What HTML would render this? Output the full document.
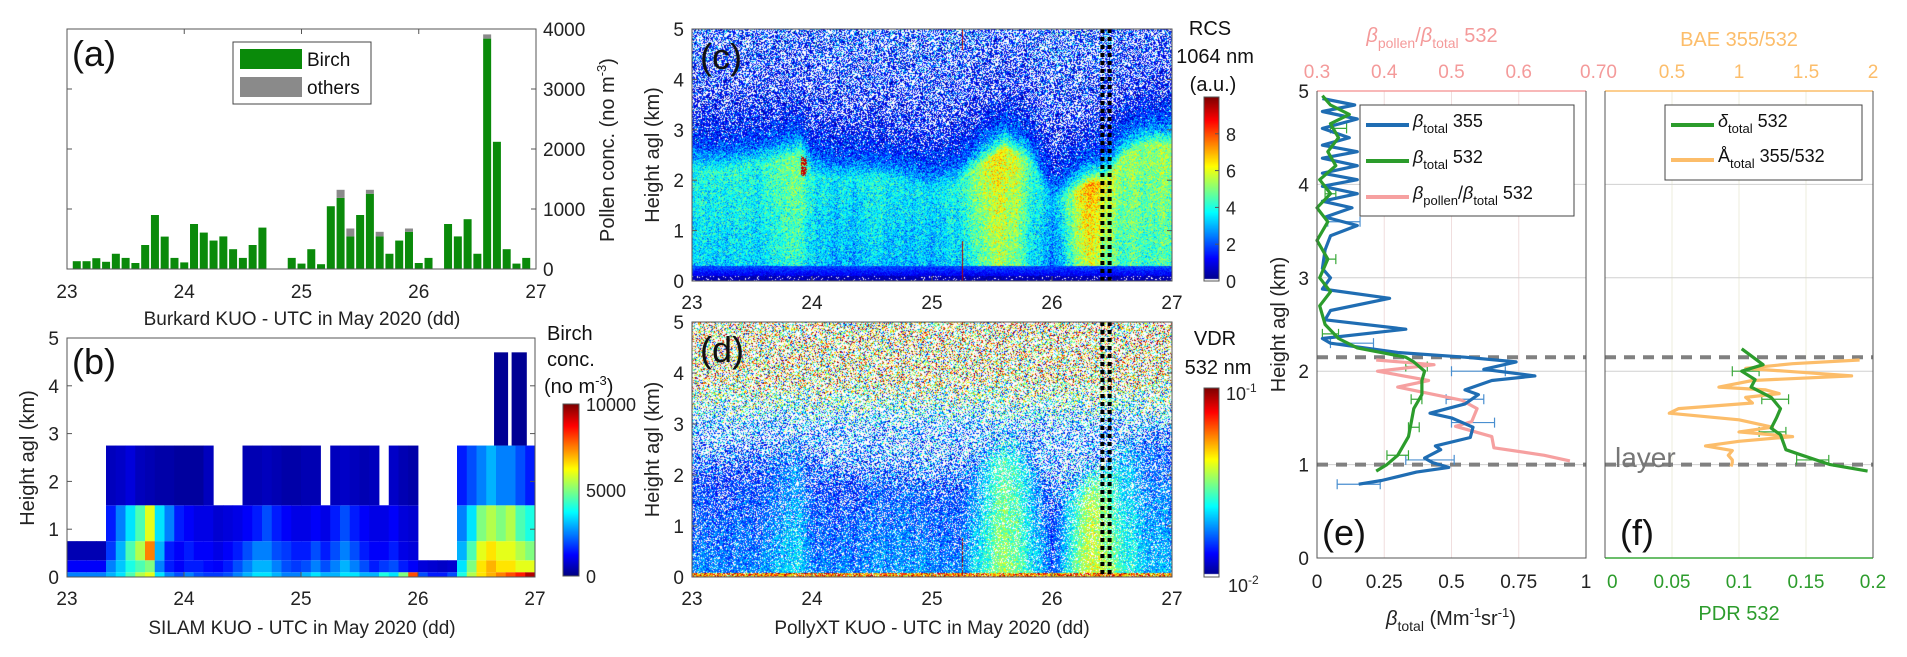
<!DOCTYPE html>
<html><head><meta charset="utf-8">
<style>
html,body{margin:0;padding:0;background:#fff;}
#root{position:relative;width:1907px;height:657px;overflow:hidden;font-family:"Liberation Sans",sans-serif;}
canvas{position:absolute;}
svg{position:absolute;left:0;top:0;}
text{font-family:"Liberation Sans",sans-serif;}
</style></head>
<body>
<div id="root">
<canvas id="cvC" width="480" height="252" style="left:692px;top:29px"></canvas>
<canvas id="cvD" width="480" height="255" style="left:692px;top:322px"></canvas>
<canvas id="cbC" width="15" height="184" style="left:1204px;top:97px"></canvas>
<canvas id="cbD" width="15" height="189" style="left:1204px;top:388px"></canvas>
<canvas id="cbB" width="16" height="172" style="left:563px;top:404px"></canvas>
<svg id="svg" width="1907" height="657" xmlns="http://www.w3.org/2000/svg"></svg>
</div>
<script>
// ---------- Panel (a) data ----------
const aHours = [];
for (let k = 0; k < 48; k++) aHours.push(k);
const birchCounts = [0,130,130,180,120,254,185,100,400,900,540,185,110,750,607,474,543,330,185,400,690,0,0,185,90,330,80,1046,1185,543,900,1254,543,254,474,620,100,185,0,750,543,830,254,3840,2120,330,90,185];
const otherCounts = [0,0,0,0,0,0,0,0,0,0,0,0,0,0,0,0,0,0,0,0,0,0,0,0,0,0,0,0,135,132,0,66,77,0,0,55,0,0,0,0,0,0,0,70,0,0,0,0];
const aTicksY = [0,1000,2000,3000,4000];
const dayTicks = [23,24,25,26,27];
// ---------- Panel (b) data (2-hour columns, levels bottom->top) ----------
const bLevels = [0,0.1,0.35,0.75,1.5,2.75];
const lev0 = [2500,2500,2500,2500,3000,3500,4500,5500,6000,3500,2500,2000,2500,2000,1800,1800,2000,2500,3000,3500,3500,3000,2500,2500,3000,3500,3000,3000,3500,3500,3000,3000,4000,3500,5000,8000,2000,1500,1500,2000,4000,5500,6500,7000,7500,8000,8500,9500];
const lev1 = [1200,1200,1200,1200,2500,3200,4000,4500,5000,2500,1500,1200,1500,1500,1300,1200,1500,2000,2500,3000,3000,2500,2000,1800,2000,2500,2000,2500,3000,2500,2000,1500,1800,2000,1500,1200,900,800,700,800,3500,5000,6500,7000,6500,6500,6000,6000];
const lev2 = [500,500,500,500,1800,3000,4500,5500,7500,3000,1500,1200,1500,1200,1200,1000,1200,1500,2000,2500,2500,2000,1800,1500,1500,2000,1500,2000,2500,2000,1500,1200,1200,1500,1000,900,0,0,0,0,3000,4500,6000,6500,6000,6000,5500,5000];
const lev3 = [0,0,0,0,1500,2500,3500,4500,6000,3500,2500,1500,1200,1000,1000,800,900,1000,1200,1500,2000,1500,1200,1000,1000,1200,1000,1500,2000,1500,1200,1000,1000,1200,900,800,0,0,0,0,2500,3500,5000,5500,5000,5500,4500,4000];
const lev4 = [0,0,0,0,600,700,900,600,500,400,400,300,300,300,600,0,0,0,500,500,600,500,400,400,500,500,0,600,700,600,500,600,0,700,500,400,0,0,0,0,1500,2000,2500,3000,2500,2500,2000,1500];
const tallStart = [26.65,26.8];
const tallEnd = [26.77,26.93];
const tallTop = [4.7,4.7];
const tallVal = [200,200];
const heightTicks = [0,1,2,3,4,5];
// ---------- Panel (c)/(d) field data ----------
const fieldDays = [23.0,23.3,23.6,23.9,24.0,24.2,24.5,24.8,25.0,25.2,25.4,25.6,25.8,26.0,26.3,26.45,26.6,26.8,27.0];
const rcsTop = [2.2,2.2,2.3,2.5,2.1,2.0,2.0,1.9,1.8,1.9,2.3,2.6,2.4,1.5,1.9,2.0,2.5,2.7,2.7];
const rcsPeak = [3.8,4,4.3,5,3.8,3.6,4,3.6,3.3,4,5.5,6.5,4.5,3,7.5,6,5,5.3,5.3];
const vdrLayer = [0.25,0.25,0.28,0.35,0.25,0.25,0.28,0.28,0.25,0.25,0.38,0.55,0.4,0.22,0.62,0.55,0.4,0.33,0.3];
const dottedDays = [26.42,26.48];
const rcsCbTicks = [0,2,4,6,8];
// ---------- Panel (e) data ----------
const b355H = [0.79,0.83,0.92,0.97,1.02,1.07,1.16,1.2,1.29,1.4,1.5,1.55,1.65,1.75,1.8,1.9,1.95,2.02,2.1,2.15,2.2,2.3,2.35,2.45,2.55,2.65,2.78,2.88,3.0,3.1,3.3,3.45,3.56,3.65,3.75,3.82,3.9,3.98,4.05,4.12,4.2,4.28,4.35,4.42,4.5,4.6,4.7,4.78,4.85,4.92];
const b355V = [0.155,0.24,0.37,0.49,0.43,0.4,0.46,0.44,0.57,0.58,0.5,0.42,0.55,0.6,0.55,0.65,0.81,0.62,0.74,0.55,0.3,0.05,0.02,0.33,0.03,0.05,0.27,0.02,0.05,0.02,0.03,0.05,0.15,0.03,0.13,0.02,0.15,0.02,0.15,0.02,0.15,0.02,0.15,0.02,0.12,0.02,0.15,0.02,0.14,0.02];
const b532H = [0.93,1.0,1.1,1.2,1.3,1.45,1.6,1.75,1.9,2.0,2.1,2.15,2.25,2.35,2.5,2.7,2.85,3.0,3.2,3.4,3.6,3.75,3.9,4.05,4.2,4.35,4.5,4.65,4.75,4.85,4.95];
const b532V = [0.22,0.26,0.3,0.32,0.34,0.35,0.36,0.39,0.39,0.4,0.36,0.33,0.15,0.08,0.03,0.01,0.05,0.01,0.04,0.0,0.04,0.0,0.05,0.01,0.07,0.04,0.08,0.05,0.12,0.05,0.02];
const ratioH = [1.04,1.1,1.18,1.3,1.41,1.46,1.6,1.69,1.83,1.9,2.0,2.07,2.12];
const ratioV = [0.676,0.638,0.563,0.56,0.506,0.53,0.538,0.515,0.42,0.466,0.39,0.474,0.388];
const errH355 = [0.79,1.05,1.45,1.7,2.0,2.3,3.6];
const errC355 = [0.155,0.42,0.58,0.55,0.6,0.13,0.1];
const errW355 = [0.08,0.09,0.08,0.07,0.1,0.08,0.06];
const errH532 = [1.1,1.4,1.7,2.05,2.4,3.2,3.9,4.6];
const errC532 = [0.3,0.36,0.37,0.37,0.05,0.05,0.05,0.08];
const errW532 = [0.04,0.02,0.02,0.04,0.03,0.02,0.02,0.03];
// ---------- Panel (f) data ----------
const pdrH = [0.93,1.0,1.11,1.16,1.32,1.39,1.5,1.6,1.72,1.83,1.91,2.0,2.07,2.24];
const pdrV = [0.196,0.168,0.145,0.135,0.131,0.124,0.128,0.131,0.124,0.109,0.112,0.102,0.118,0.102];
const baeH = [0.98,1.02,1.05,1.1,1.15,1.2,1.25,1.3,1.35,1.4,1.48,1.55,1.6,1.66,1.72,1.76,1.8,1.83,1.9,1.95,2.0,2.03,2.08,2.12];
const baeV = [0.94,0.95,0.95,0.92,0.95,0.75,1.0,1.4,1.0,1.25,1.0,0.48,0.55,1.1,1.05,1.3,1.2,0.85,1.1,1.84,1.35,1.05,1.4,1.9];
const errHpdr = [1.05,1.35,1.7,2.0];
const errCpdr = [0.155,0.125,0.127,0.105];
const errWpdr = [0.012,0.01,0.01,0.01];
const layerBounds = [1.0,2.15];

// ---------- helpers ----------
const NS = "http://www.w3.org/2000/svg";
const svg = document.getElementById('svg');
function mk(tag, attrs, parent) {
  const e = document.createElementNS(NS, tag);
  for (const k in attrs) e.setAttribute(k, attrs[k]);
  (parent || svg).appendChild(e);
  return e;
}
function txt(x, y, s, size, anchor, fill, name, extra) {
  const t = mk('text', {x: x, y: y, 'font-size': size, 'text-anchor': anchor || 'start', fill: fill || '#222'});
  t.textContent = s;
  
  
  if (extra) for (const k in extra) t.setAttribute(k, extra[k]);
  return t;
}
function jet(t) {
  t = Math.max(0, Math.min(1, t));
  const r = Math.max(0, Math.min(1, 1.5 - Math.abs(4 * t - 3)));
  const g = Math.max(0, Math.min(1, 1.5 - Math.abs(4 * t - 2)));
  const b = Math.max(0, Math.min(1, 1.5 - Math.abs(4 * t - 1)));
  return [Math.round(r * 255), Math.round(g * 255), Math.round(b * 255)];
}
function rgb(c) { return 'rgb(' + c[0] + ',' + c[1] + ',' + c[2] + ')'; }
let seed = 12345;
function rnd() { seed = (seed * 1103515245 + 12345) & 0x7fffffff; return seed / 0x7fffffff; }
function gauss() { return (rnd() + rnd() + rnd() + rnd() - 2) * 1.22; }
function interp(xs, ys, x) {
  if (x <= xs[0]) return ys[0];
  for (let i = 1; i < xs.length; i++) if (x <= xs[i]) { const f = (x - xs[i-1]) / (xs[i] - xs[i-1]); return ys[i-1] + f * (ys[i] - ys[i-1]); }
  return ys[ys.length - 1];
}
function clamp01(v) { return Math.max(0, Math.min(1, v)); }

// ---------- Panel (a) ----------
const A = {l: 67, r: 536, t: 29, b: 269};
const ax = d => A.l + (d - 23) / 4 * (A.r - A.l);
const ay = v => A.b - v / 4000 * (A.b - A.t);
const gA = mk('g', {});


for (let i = 0; i < aHours.length; i++) {
  const dc = 23 + aHours[i] / 12;
  const w = 8;
  if (birchCounts[i] > 0) {
    const r = mk('rect', {x: ax(dc) - w / 2, y: ay(birchCounts[i]), width: w, height: ay(0) - ay(birchCounts[i]), fill: '#0a8a0a'}, gA);
    
    
  }
  if (otherCounts[i] > 0) {
    const r2 = mk('rect', {x: ax(dc) - w / 2, y: ay(birchCounts[i] + otherCounts[i]), width: w, height: ay(0) - ay(otherCounts[i]), fill: '#8a8a8a'}, gA);
    
    
  }
}
mk('rect', {x: A.l, y: A.t, width: A.r - A.l, height: A.b - A.t, fill: 'none', stroke: '#555', 'stroke-width': 1}, gA);
aTicksY.forEach(v => {
  mk('line', {x1: A.r, x2: A.r - 5, y1: ay(v), y2: ay(v), stroke: '#555'}, gA);
  mk('line', {x1: A.l, x2: A.l + 5, y1: ay(v), y2: ay(v), stroke: '#555'}, gA);
  txt(A.r + 7, ay(v) + 7, String(v), 19, 'start', '#222', 'a-y-tick-label');
});
dayTicks.forEach(d => {
  mk('line', {x1: ax(d), x2: ax(d), y1: A.t, y2: A.t + 5, stroke: '#555'}, gA);
  txt(ax(d), 298, String(d), 19, 'middle', '#222', 'a-x-tick-label');
});
txt(302, 325, 'Burkard KUO - UTC in May 2020 (dd)', 19, 'middle', '#222', 'a-x-axis-title');
const ayt = txt(0, 0, '', 20, 'middle', '#222', 'a-y-axis-title', {transform: 'translate(614,150) rotate(-90)'});
ayt.innerHTML = 'Pollen conc. (no m<tspan font-size="13" dy="-8">-3</tspan><tspan dy="8">)</tspan>';
txt(72, 66, '(a)', 36, 'start', '#111', 'panel-label-a');
const legA = mk('g', {});


mk('rect', {x: 233, y: 42, width: 138, height: 62, fill: '#fff', stroke: '#444'}, legA);
mk('rect', {x: 240, y: 49, width: 62, height: 20, fill: '#0a8a0a'}, legA);
mk('rect', {x: 240, y: 77, width: 62, height: 20, fill: '#8a8a8a'}, legA);
txt(307, 66, 'Birch', 19, 'start', '#111', 'legend-birch');
txt(307, 94, 'others', 19, 'start', '#111', 'legend-others');

// ---------- Panel (b) ----------
const B = {l: 67, r: 535, t: 338, b: 577};
const bx = d => B.l + (d - 23) / 4 * (B.r - B.l);
const by = h => B.b - h / 5 * (B.b - B.t);
const bColor = v => rgb(jet(v / 10000));
const gB = mk('g', {});


const bLevArrs = [lev0, lev1, lev2, lev3, lev4];
for (let k = 0; k < 48; k++) {
  for (let L = 0; L < 5; L++) {
    const v = bLevArrs[L][k];
    if (v <= 0) continue;
    const x0 = bx(23 + k / 12), x1 = bx(23 + (k + 1) / 12);
    const c = mk('rect', {x: x0, y: by(bLevels[L + 1]), width: x1 - x0 + 0.4, height: by(bLevels[L]) - by(bLevels[L + 1]), fill: bColor(v)}, gB);
    
    
  }
}
for (let i = 0; i < tallStart.length; i++) {
  const c = mk('rect', {x: bx(tallStart[i]), y: by(tallTop[i]), width: bx(tallEnd[i]) - bx(tallStart[i]), height: by(bLevels[5]) - by(tallTop[i]), fill: bColor(tallVal[i])}, gB);
  
  
}
mk('rect', {x: B.l, y: B.t, width: B.r - B.l, height: B.b - B.t, fill: 'none', stroke: '#555'}, gB);
heightTicks.forEach(h => {
  mk('line', {x1: B.l, x2: B.l + 5, y1: by(h), y2: by(h), stroke: '#555'}, gB);
  mk('line', {x1: B.r, x2: B.r - 5, y1: by(h), y2: by(h), stroke: '#555'}, gB);
  txt(B.l - 8, by(h) + 7, String(h), 19, 'end', '#222', 'b-y-tick-label');
});
dayTicks.forEach(d => {
  mk('line', {x1: bx(d), x2: bx(d), y1: B.b, y2: B.b - 5, stroke: '#555'}, gB);
  txt(bx(d), 605, String(d), 19, 'middle', '#222', 'b-x-tick-label');
});
txt(302, 634, 'SILAM KUO - UTC in May 2020 (dd)', 19, 'middle', '#222', 'b-x-axis-title');
txt(0, 0, 'Height agl (km)', 20, 'middle', '#222', 'b-y-axis-title', {transform: 'translate(34,458) rotate(-90)'});
txt(72, 374, '(b)', 36, 'start', '#111', 'panel-label-b');
txt(547, 340, 'Birch', 20, 'start', '#111', 'b-cbar-title-1');
txt(547, 366, 'conc.', 20, 'start', '#111', 'b-cbar-title-2');
const bct = txt(544, 393, '', 20, 'start', '#111', 'b-cbar-title-3');
bct.innerHTML = '(no m<tspan font-size="13" dy="-8">-3</tspan><tspan dy="8">)</tspan>';
[[0, 576], [5000, 490], [10000, 404]].forEach(p => {
  txt(586, p[1] + 7, String(p[0]), 18, 'start', '#222', 'b-cbar-tick-label');
});
mk('rect', {x: 563, y: 404, width: 16, height: 172, fill: 'none', stroke: '#555'}, gB);

// ---------- Panels (c),(d) ----------
const C = {l: 692, r: 1172, t: 29, b: 281};
const D = {l: 692, r: 1172, t: 322, b: 577};
function cxp(d, P) { return P.l + (d - 23) / 4 * (P.r - P.l); }
// smooth per-column texture variation (not data, visual streaks)
const streakTex = [];
(function () {
  let s = 0;
  for (let x = 0; x < 480; x++) { s = 0.85 * s + 0.15 * (rnd() * 2 - 1) * 2.2; streakTex.push(s); }
})();
function drawField(id, W, H, fn) {
  const cv = document.getElementById(id), ctx = cv.getContext('2d');
  const img = ctx.createImageData(W, H);
  for (let x = 0; x < W; x++) {
    const day = 23 + x / W * 4;
    const streak = streakTex[x];
    for (let y = 0; y < H; y++) {
      const h = (H - y) / H * 5;
      const c = fn(day, h, streak);
      const i = (y * W + x) * 4;
      img.data[i] = c[0]; img.data[i+1] = c[1]; img.data[i+2] = c[2]; img.data[i+3] = 255;
    }
  }
  ctx.putImageData(img, 0, 0);
}
function rcsColor(v) { if (v < 0.2) return [255, 255, 255]; return jet(v / 10); }
drawField('cvC', 480, 252, (day, h, streak) => {
  const top = interp(fieldDays, rcsTop, day), pk = interp(fieldDays, rcsPeak, day);
  let v, sd;
  if (h < 0.1) { v = 0.5; sd = 0.3; }
  else if (h < 0.3) { v = 1.0 + (h - 0.1) * 5; sd = 0.4; }
  else if (h < top) { v = pk * (0.8 + 0.2 * h / top) + streak * 0.5; sd = 1.0; }
  else {
    const dz = h - top;
    v = pk * Math.exp(-dz * 4) + 2.4 * Math.exp(-dz * 0.9) * (1 - Math.exp(-dz * 6));
    v = Math.max(v, 0.6);
    sd = 0.9 + dz * 0.6;
  }
  v += gauss() * sd;
  if (Math.abs(day - 25.25) < 0.008 && (h > 4.6 || h < 0.8)) v = 9.5;
  if (Math.abs(day - 23.93) < 0.025 && h > 2.1 && h < 2.5 && rnd() < 0.6) v = 9.3;
  return rcsColor(v);
});
function vdrColor(t) { if (t < 0.02) return [255, 255, 255]; return jet(t); }
drawField('cvD', 480, 255, (day, h, streak) => {
  const top = interp(fieldDays, rcsTop, day), lay = interp(fieldDays, vdrLayer, day);
  let m, sd, pw;
  if (h < 0.08) { m = 0.75; sd = 0.2; pw = 0.1; }
  else {
    const f1 = clamp01((h - top + 0.3) / 0.8);
    const f2 = clamp01((h - 2.9) / 1.0);
    const mIn = lay - 0.04 * h + streak * 0.03;
    m = mIn * (1 - f1) + 0.22 * f1;
    m = m * (1 - f2) + 0.55 * f2;
    sd = 0.09 * (1 - f1) + 0.22 * f1;
    sd = sd * (1 - f2) + 0.4 * f2;
    pw = (0.12 + 0.08 * h) * (1 - f1) + 0.5 * f1;
    pw = pw * (1 - f2) + 0.5 * f2;
  }
  let t = m + gauss() * sd;
  if (rnd() < pw) {
    return rnd() < 0.75 ? [255, 255, 255] : [245, 228, 228];
  }
  if (Math.abs(day - 25.25) < 0.008 && (h > 4.6 || h < 0.8)) t = 0.97;
  return vdrColor(t);
});
(function () {
  const c = document.getElementById('cbC').getContext('2d');
  for (let y = 0; y < 184; y++) { c.fillStyle = rgb(y > 181 ? [255,255,255] : jet((184 - y) / 184)); c.fillRect(0, y, 15, 1); }
  const d = document.getElementById('cbD').getContext('2d');
  for (let y = 0; y < 189; y++) { d.fillStyle = rgb(y > 185 ? [255,255,255] : jet((189 - y) / 189)); d.fillRect(0, y, 15, 1); }
  const b = document.getElementById('cbB').getContext('2d');
  for (let y = 0; y < 172; y++) { b.fillStyle = rgb(jet((172 - y) / 172)); b.fillRect(0, y, 16, 1); }
})();
[[C, 'c'], [D, 'd']].forEach(pp => {
  const P = pp[0], n = pp[1];
  const g = mk('g', {});
  
  
  dottedDays.forEach(dd => {
    mk('line', {x1: cxp(dd, P), x2: cxp(dd, P), y1: P.t, y2: P.b, stroke: '#000', 'stroke-width': 4, 'stroke-dasharray': '4 4'}, g);
  });
  mk('rect', {x: P.l, y: P.t, width: P.r - P.l, height: P.b - P.t, fill: 'none', stroke: '#555'}, g);
  heightTicks.forEach(h => {
    const yy = P.b - h / 5 * (P.b - P.t);
    mk('line', {x1: P.l, x2: P.l + 5, y1: yy, y2: yy, stroke: '#555'}, g);
    mk('line', {x1: P.r, x2: P.r - 5, y1: yy, y2: yy, stroke: '#555'}, g);
    txt(P.l - 8, yy + 7, String(h), 19, 'end', '#222', n + '-y-tick-label');
  });
  dayTicks.forEach(d => {
    mk('line', {x1: cxp(d, P), x2: cxp(d, P), y1: P.b, y2: P.b - 5, stroke: '#555'}, g);
    txt(cxp(d, P), P.b + 28, String(d), 19, 'middle', '#222', n + '-x-tick-label');
  });
  txt(0, 0, 'Height agl (km)', 20, 'middle', '#222', n + '-y-axis-title', {transform: 'translate(' + (P.l - 33) + ',' + ((P.t + P.b) / 2) + ') rotate(-90)'});
  txt(P.l + 8, P.t + 40, '(' + n + ')', 36, 'start', '#111', 'panel-label-' + n);
});
txt(932, 634, 'PollyXT KUO - UTC in May 2020 (dd)', 19, 'middle', '#222', 'd-x-axis-title');
txt(1210, 35, 'RCS', 20, 'middle', '#111', 'c-cbar-title-1');
txt(1215, 63, '1064 nm', 20, 'middle', '#111', 'c-cbar-title-2');
txt(1213, 91, '(a.u.)', 20, 'middle', '#111', 'c-cbar-title-3');
mk('rect', {x: 1204, y: 97, width: 15, height: 184, fill: 'none', stroke: '#555'});
rcsCbTicks.forEach(v => {
  const yy = 281 - v / 10 * 184;
  mk('line', {x1: 1219, x2: 1215, y1: yy, y2: yy, stroke: '#555'});
  txt(1226, yy + 7, String(v), 18, 'start', '#222', 'c-cbar-tick-label');
});
txt(1215, 345, 'VDR', 20, 'middle', '#111', 'd-cbar-title-1');
txt(1218, 374, '532 nm', 20, 'middle', '#111', 'd-cbar-title-2');
mk('rect', {x: 1204, y: 388, width: 15, height: 189, fill: 'none', stroke: '#555'});
const dtop = txt(1226, 400, '', 18, 'start', '#222', 'd-cbar-top-label');
dtop.innerHTML = '10<tspan font-size="12" dy="-8">-1</tspan>';
const dbot = txt(1228, 592, '', 18, 'start', '#222', 'd-cbar-bottom-label');
dbot.innerHTML = '10<tspan font-size="12" dy="-8">-2</tspan>';

// ---------- Panel (e) ----------
const E = {l: 1317, r: 1586, t: 91, b: 558};
const ex = v => E.l + v * (E.r - E.l);
const exTop = v => E.l + (v - 0.3) / 0.4 * (E.r - E.l);
const ey = h => E.b - h / 5 * (E.b - E.t);
const F = {l: 1605, r: 1873, t: 91, b: 558};
const fx = v => F.l + v / 0.2 * (F.r - F.l);
const fxTop = v => F.l + v / 2 * (F.r - F.l);
const gE = mk('g', {});


const gF = mk('g', {});


[0.25, 0.5, 0.75].forEach(v => mk('line', {x1: ex(v), x2: ex(v), y1: E.t, y2: E.b, stroke: '#f0dede'}, gE));
[0.05, 0.1, 0.15].forEach(v => mk('line', {x1: fx(v), x2: fx(v), y1: F.t, y2: F.b, stroke: '#eeeedc'}, gF));
[1, 2, 3, 4].forEach(h => {
  mk('line', {x1: E.l, x2: E.r, y1: ey(h), y2: ey(h), stroke: '#d0d0d0'}, gE);
  mk('line', {x1: F.l, x2: F.r, y1: ey(h), y2: ey(h), stroke: '#d0d0d0'}, gF);
});
layerBounds.forEach(h => {
  mk('line', {x1: E.l, x2: E.r, y1: ey(h), y2: ey(h), stroke: '#808080', 'stroke-width': 4, 'stroke-dasharray': '11 8'}, gE);
  mk('line', {x1: F.l, x2: F.r, y1: ey(h), y2: ey(h), stroke: '#808080', 'stroke-width': 4, 'stroke-dasharray': '11 8'}, gF);
});
function poly(xs, ys, fx_, name, color, g) {
  const pts = xs.map((v, i) => fx_(v).toFixed(1) + ',' + ey(ys[i]).toFixed(1)).join(' ');
  const p = mk('polyline', {points: pts, fill: 'none', stroke: color, 'stroke-width': 3.2, 'stroke-linejoin': 'round'}, g);
  
  
}
function errs(hs, cs, ws, fx_, color, g, name) {
  hs.forEach((h, i) => {
    const y = ey(h);
    const eb = mk('path', {d: 'M' + fx_(cs[i] - ws[i]) + ' ' + y + 'H' + fx_(cs[i] + ws[i]) + 'M' + fx_(cs[i] - ws[i]) + ' ' + (y - 5) + 'v10M' + fx_(cs[i] + ws[i]) + ' ' + (y - 5) + 'v10', stroke: color, 'stroke-width': 1.2, fill: 'none'}, g);
    
    
  });
}
errs(errH355, errC355, errW355, ex, '#4a8fd0', gE, 'beta355-error-bar');
errs(errH532, errC532, errW532, ex, '#3aa83a', gE, 'beta532-error-bar');
poly(ratioV, ratioH, exTop, 'pollen-ratio-line', '#f6a0a0', gE);
poly(b355V, b355H, ex, 'beta355-line', '#1f6db3', gE);
poly(b532V, b532H, ex, 'beta532-line', '#2c9c2c', gE);
errs(errHpdr, errCpdr, errWpdr, fx, '#3aa83a', gF, 'pdr-error-bar');
poly(baeV, baeH, fxTop, 'bae-line', '#fcbd6a', gF);
poly(pdrV, pdrH, fx, 'pdr-line', '#2c9c2c', gF);
mk('line', {x1: E.l, x2: E.r, y1: E.t, y2: E.t, stroke: '#f6a0a0', 'stroke-width': 1.5}, gE);
mk('path', {d: 'M' + E.l + ' ' + E.t + 'V' + E.b + 'H' + E.r + 'V' + E.t, stroke: '#555', fill: 'none'}, gE);
mk('line', {x1: F.l, x2: F.r, y1: F.t, y2: F.t, stroke: '#fcbd6a', 'stroke-width': 1.5}, gF);
mk('line', {x1: F.l, x2: F.r, y1: F.b, y2: F.b, stroke: '#3aa83a', 'stroke-width': 1.5}, gF);
mk('path', {d: 'M' + F.l + ' ' + F.t + 'V' + F.b + 'M' + F.r + ' ' + F.t + 'V' + F.b, stroke: '#555', fill: 'none'}, gF);
heightTicks.forEach(h => txt(E.l - 8, ey(h) + 7, String(h), 19, 'end', '#222', 'e-y-tick-label'));
[0, 0.25, 0.5, 0.75, 1].forEach(v => txt(ex(v), 588, String(v), 19, 'middle', '#222', 'e-x-tick-label'));
[0.3, 0.4, 0.5, 0.6].forEach(v => txt(exTop(v), 78, String(v), 19, 'middle', '#f49a9a', 'e-top-tick-label'));
txt(exTop(0.7) - 6, 78, '0.70', 19, 'start', '#f49a9a', 'e-top-tick-label-end');
[0.05, 0.1, 0.15, 0.2].forEach(v => txt(fx(v), 588, String(v), 19, 'middle', '#2c9c2c', 'f-x-tick-label'));
txt(fx(0) + 2, 588, '0', 19, 'start', '#2c9c2c', 'f-x-tick-label-zero');
[0.5, 1, 1.5, 2].forEach(v => txt(fxTop(v), 78, String(v), 19, 'middle', '#fcbd6a', 'f-top-tick-label'));
txt(0, 0, 'Height agl (km)', 20, 'middle', '#222', 'e-y-axis-title', {transform: 'translate(1285,' + ((E.t + E.b) / 2) + ') rotate(-90)'});
const xe = txt(1451, 625, '', 20, 'middle', '#222', 'e-x-axis-title');
xe.innerHTML = '<tspan font-style="italic">β</tspan><tspan font-size="14" dy="6">total</tspan><tspan dy="-6"> (Mm</tspan><tspan font-size="13" dy="-8">-1</tspan><tspan dy="8">sr</tspan><tspan font-size="13" dy="-8">-1</tspan><tspan dy="8">)</tspan>';
const te = txt(1432, 42, '', 20, 'middle', '#f49a9a', 'e-top-axis-title');
te.innerHTML = '<tspan font-style="italic">β</tspan><tspan font-size="14" dy="6">pollen</tspan><tspan dy="-6">/</tspan><tspan font-style="italic">β</tspan><tspan font-size="14" dy="6">total</tspan><tspan dy="-6"> 532</tspan>';
txt(1739, 46, 'BAE 355/532', 20, 'middle', '#fcbd6a', 'f-top-axis-title');
txt(1739, 620, 'PDR 532', 20, 'middle', '#2c9c2c', 'f-x-axis-title');
txt(1322, 545, '(e)', 36, 'start', '#111', 'panel-label-e');
txt(1620, 545, '(f)', 36, 'start', '#111', 'panel-label-f');
txt(1615, 467, 'layer', 28, 'start', '#777', 'layer-label');
const lE = mk('g', {});


mk('rect', {x: 1360, y: 105, width: 214, height: 111, fill: '#fff', stroke: '#444'}, lE);
[['#1f6db3', 'total', ' 355', 125], ['#2c9c2c', 'total', ' 532', 161], ['#f6a0a0', 'pollen', '', 197]].forEach((r, i) => {
  mk('line', {x1: 1366, x2: 1409, y1: r[3], y2: r[3], stroke: r[0], 'stroke-width': 4}, lE);
  const t = txt(1413, r[3] + 2, '', 18, 'start', '#111', 'e-legend-entry');
  if (i < 2) t.innerHTML = '<tspan font-style="italic">β</tspan><tspan font-size="13" dy="6">total</tspan><tspan dy="-6">' + r[2] + '</tspan>';
  else t.innerHTML = '<tspan font-style="italic">β</tspan><tspan font-size="13" dy="6">pollen</tspan><tspan dy="-6">/</tspan><tspan font-style="italic">β</tspan><tspan font-size="13" dy="6">total</tspan><tspan dy="-6"> 532</tspan>';
});
const lF = mk('g', {});


mk('rect', {x: 1665, y: 105, width: 197, height: 75, fill: '#fff', stroke: '#444'}, lF);
mk('line', {x1: 1671, x2: 1714, y1: 125, y2: 125, stroke: '#2c9c2c', 'stroke-width': 4}, lF);
mk('line', {x1: 1671, x2: 1714, y1: 160, y2: 160, stroke: '#fcbd6a', 'stroke-width': 4}, lF);
const f1 = txt(1718, 127, '', 18, 'start', '#111', 'f-legend-pdr');
f1.innerHTML = '<tspan font-style="italic">δ</tspan><tspan font-size="13" dy="6">total</tspan><tspan dy="-6"> 532</tspan>';
const f2 = txt(1718, 162, '', 18, 'start', '#111', 'f-legend-bae');
f2.innerHTML = 'Å<tspan font-size="13" dy="6">total</tspan><tspan dy="-6"> 355/532</tspan>';
</script>
</body></html>
